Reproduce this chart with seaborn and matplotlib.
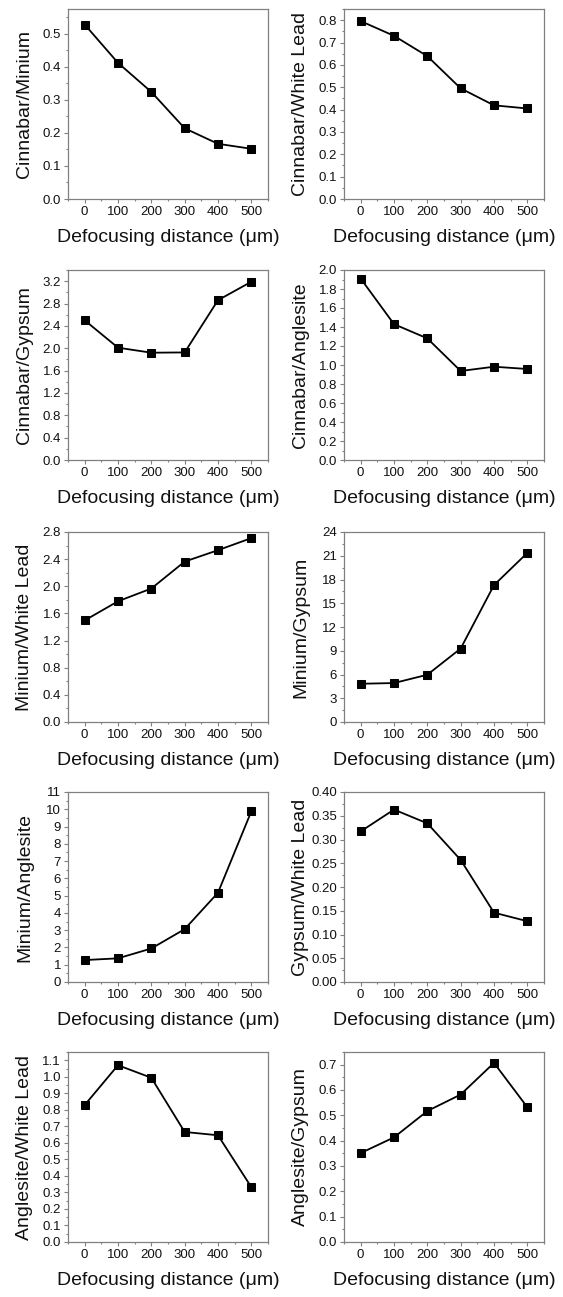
import matplotlib
matplotlib.use('Agg')
import matplotlib.pyplot as plt
import seaborn as sns
from matplotlib.ticker import MultipleLocator, AutoMinorLocator, FormatStrFormatter

sns.set_style('ticks')
plt.rcParams['font.family'] = ['Liberation Sans', 'DejaVu Sans']

# Data
distance = [0, 100, 200, 300, 400, 500]

cinnabar_minium = [0.528, 0.412, 0.324, 0.214, 0.167, 0.152]
cinnabar_white_lead = [0.796, 0.730, 0.639, 0.495, 0.419, 0.405]
cinnabar_gypsum = [2.50, 2.01, 1.92, 1.925, 2.86, 3.19]
cinnabar_anglesite = [1.91, 1.43, 1.28, 0.937, 0.982, 0.958]
minium_white_lead = [1.497, 1.779, 1.967, 2.364, 2.532, 2.71]
minium_gypsum = [4.83, 4.92, 5.97, 9.28, 17.29, 21.36]
minium_anglesite = [1.27, 1.37, 1.94, 3.06, 5.17, 9.88]
gypsum_white_lead = [0.317, 0.363, 0.334, 0.257, 0.146, 0.128]
anglesite_white_lead = [0.829, 1.07, 0.994, 0.666, 0.646, 0.332]
anglesite_gypsum = [0.351, 0.413, 0.517, 0.582, 0.707, 0.532]

# (ylabel, values, y max, y step, tick format)
panels = [
    ('Cinnabar/Minium', cinnabar_minium, 0.575, 0.1, '%.1f'),
    ('Cinnabar/White Lead', cinnabar_white_lead, 0.85, 0.1, '%.1f'),
    ('Cinnabar/Gypsum', cinnabar_gypsum, 3.4, 0.4, '%.1f'),
    ('Cinnabar/Anglesite', cinnabar_anglesite, 2.0, 0.2, '%.1f'),
    ('Minium/White Lead', minium_white_lead, 2.8, 0.4, '%.1f'),
    ('Minium/Gypsum', minium_gypsum, 24, 3, '%d'),
    ('Minium/Anglesite', minium_anglesite, 11, 1, '%d'),
    ('Gypsum/White Lead', gypsum_white_lead, 0.40, 0.05, '%.2f'),
    ('Anglesite/White Lead', anglesite_white_lead, 1.15, 0.1, '%.1f'),
    ('Anglesite/Gypsum', anglesite_gypsum, 0.75, 0.1, '%.1f'),
]

W, H = 563, 1297
fig = plt.figure(figsize=(W / 100, H / 100), dpi=100)

col_left = [68, 344]
row_top = [9, 270, 532, 792, 1052]
ax_w, ax_h = 200, 190
frame = '#808080'

for i, (label, vals, ytop, step, fmt) in enumerate(panels):
    r, c = divmod(i, 2)
    ax = fig.add_axes([col_left[c] / W, (H - row_top[r] - ax_h) / H, ax_w / W, ax_h / H])
    sns.lineplot(x=distance, y=vals, ax=ax, color='black', marker='s',
                 markersize=6, markeredgecolor='black', linewidth=1.3)
    ax.set_xlim(-50, 550)
    ax.set_xticks(distance)
    ax.xaxis.set_minor_locator(MultipleLocator(50))
    ax.set_ylim(0, ytop)
    ax.yaxis.set_major_locator(MultipleLocator(step))
    ax.yaxis.set_minor_locator(AutoMinorLocator(2))
    ax.yaxis.set_major_formatter(FormatStrFormatter(fmt))
    ax.tick_params(which='major', direction='out', length=3, width=0.8,
                   color=frame, labelsize=9.5, labelcolor='#111111', pad=2)
    ax.tick_params(which='minor', direction='out', length=1.6, width=0.8, color=frame)
    for sp in ax.spines.values():
        sp.set_color(frame)
        sp.set_linewidth(0.9)
    ax.set_xlabel('Defocusing distance (\u03bcm)', fontsize=14, color='#111111')
    ax.set_ylabel(label, fontsize=14, color='#111111')
    ax.xaxis.set_label_coords(0.5, -0.16)
    ax.yaxis.set_label_coords(-0.175, 0.5)

fig.savefig('out.png', dpi=100)
